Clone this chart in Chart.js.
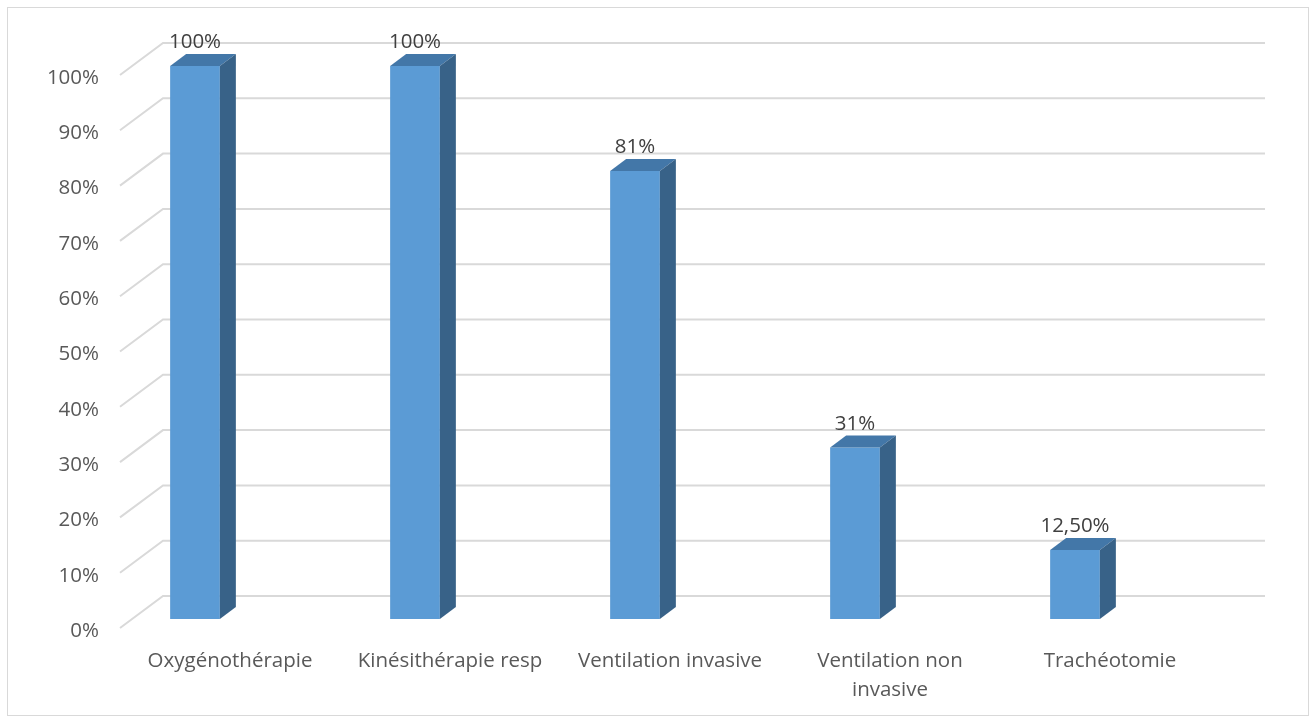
<!DOCTYPE html>
<html>
<head>
<meta charset="utf-8">
<title>Prise en charge respiratoire</title>
<script src="https://cdn.jsdelivr.net/npm/chart.js@4.4.1/dist/chart.umd.min.js"></script>
<style>
html, body { margin: 0; padding: 0; background: #fff; }
#wrap { position: relative; width: 1316px; height: 722px; }
#frame { position: absolute; left: 7px; top: 7px; width: 1300px; height: 707px; border: 1px solid #d9d9d9; }
canvas { position: absolute; left: 0; top: 0; }
</style>
</head>
<body>
<div id="wrap">
	<div id="frame"></div>
	<canvas id="chart" width="1316" height="722"></canvas>
</div>
<script>
const categories = ["Oxygénothérapie", "Kinésithérapie resp", "Ventilation invasive", ["Ventilation non", "invasive"], "Trachéotomie"];
const values = [100, 100, 81, 31, 12.5];
const yMin = 0;
const yMax = 100;
const yStep = 10;

const FONT = "'Open Sans', 'Noto Sans', sans-serif";
const FONT_SIZE = 20.5;

// fake 3d: back wall offset, bar depth, and where the bars sit between wall and front
const wall = { dx: 43, dy: -32 };
const depth = { dx: 16, dy: -12 };
const barShift = { dx: -35, dy: -9 };

function pctLabel(v) {
	if (Number.isInteger(v)) return v + "%";
	return v.toFixed(2).replace(".", ",") + "%";
}

const wallPlugin = {
	id: "wall3d",
	beforeDatasetsDraw(chart) {
		const ctx = chart.ctx;
		const area = chart.chartArea;
		const y = chart.scales.y;
		ctx.save();
		ctx.strokeStyle = "#d9d9d9";
		ctx.lineWidth = 2;
		y.ticks.forEach((t) => {
			const py = y.getPixelForValue(t.value);
			ctx.beginPath();
			ctx.moveTo(area.left, py);
			ctx.lineTo(area.left + wall.dx, py + wall.dy);
			ctx.lineTo(area.right + wall.dx + 2, py + wall.dy);
			ctx.stroke();
		});
		ctx.restore();

		// bars are drawn pushed back into the box
		ctx.save();
		ctx.translate(barShift.dx, barShift.dy);
	},
	afterDatasetsDraw(chart) {
		const ctx = chart.ctx;
		const meta = chart.getDatasetMeta(0);
		meta.data.forEach((bar, i) => {
			const p = bar.getProps(["x", "y", "base", "width"], true);
			const x1 = p.x - p.width / 2;
			const x2 = p.x + p.width / 2;

			// top face
			ctx.fillStyle = "#4377a8";
			ctx.beginPath();
			ctx.moveTo(x1, p.y);
			ctx.lineTo(x1 + depth.dx, p.y + depth.dy);
			ctx.lineTo(x2 + depth.dx, p.y + depth.dy);
			ctx.lineTo(x2, p.y);
			ctx.closePath();
			ctx.fill();

			// side face
			ctx.fillStyle = "#386288";
			ctx.beginPath();
			ctx.moveTo(x2, p.y);
			ctx.lineTo(x2 + depth.dx, p.y + depth.dy);
			ctx.lineTo(x2 + depth.dx, p.base + depth.dy);
			ctx.lineTo(x2, p.base);
			ctx.closePath();
			ctx.fill();

			// value label
			ctx.fillStyle = "#404040";
			ctx.font = FONT_SIZE + "px " + FONT;
			ctx.textAlign = "center";
			ctx.textBaseline = "alphabetic";
			ctx.fillText(pctLabel(values[i]), p.x, p.y + depth.dy - 6);
		});
		ctx.restore();
	},
};

const config = {
	type: "bar",
	data: {
		labels: categories,
		datasets: [
			{
				data: values,
				backgroundColor: "#5b9bd5",
				borderWidth: 0,
				categoryPercentage: 1,
				barPercentage: 0.226,
				clip: false,
			},
		],
	},
	options: {
		responsive: false,
		animation: false,
		devicePixelRatio: 1,
		layout: {
			padding: { left: 0, right: 96, top: 75, bottom: 0 },
		},
		plugins: {
			legend: { display: false },
			tooltip: { enabled: false },
		},
		scales: {
			x: {
				grid: { display: false },
				border: { display: false },
				ticks: {
					color: "#595959",
					font: { family: FONT, size: FONT_SIZE, lineHeight: 1.4 },
					padding: 11,
					maxRotation: 0,
					autoSkip: false,
				},
				afterFit(scale) {
					scale.height = 94;
				},
			},
			y: {
				min: yMin,
				max: yMax,
				grid: { display: false },
				border: { display: false },
				ticks: {
					stepSize: yStep,
					color: "#595959",
					font: { family: FONT, size: FONT_SIZE },
					padding: 13,
					labelOffset: 3,
					callback: (v) => v + "%",
				},
				afterFit(scale) {
					scale.width = 120;
				},
			},
		},
	},
	plugins: [wallPlugin],
};

new Chart(document.getElementById("chart"), config);
</script>
</body>
</html>
